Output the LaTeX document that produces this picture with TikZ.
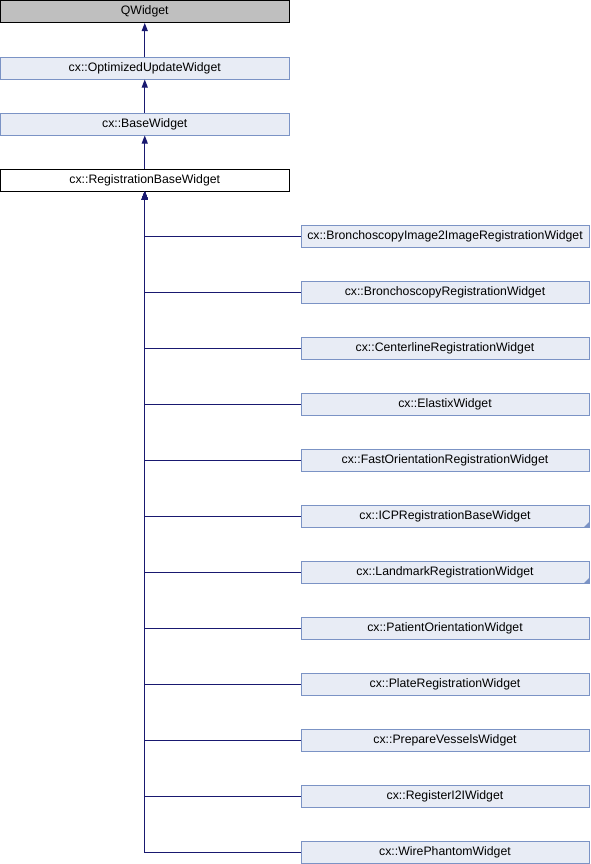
\documentclass[tikz,border=0pt]{standalone}
\usepackage{fontspec}
\setmainfont{Liberation Sans}
\usetikzlibrary{arrows.meta}
\definecolor{edgeblue}{HTML}{191970}
\definecolor{nodefill}{HTML}{E8ECF5}
\definecolor{nodeborder}{HTML}{7B93C5}
\definecolor{greyfill}{HTML}{BFBFBF}
\begin{document}
\begin{tikzpicture}[x=0.75pt,y=-0.75pt,
  basebox/.style={draw, line width=0.75pt, minimum height=16.5pt, inner sep=0pt,
    font=\fontsize{9.2}{11}\selectfont, anchor=center},
  topbox/.style={basebox, minimum width=216.75pt},
  childbox/.style={basebox, minimum width=216pt},
  bluebox/.style={fill=nodefill, draw=nodeborder},
  edge/.style={draw=edgeblue, line width=0.75pt, -{Triangle[length=6pt,width=4.5pt]}},
  corner/.style={fill=nodeborder}
]
\useasboundingbox (0,0) rectangle (590,864);
\node[topbox, fill=greyfill, draw=black] (qw) at (144.75,11.5) {QWidget};
\node[topbox, bluebox] (ouw) at (144.75,68) {cx::OptimizedUpdateWidget};
\node[topbox, bluebox] (bw) at (144.75,124) {cx::BaseWidget};
\node[topbox, fill=white, draw=black] (rbw) at (144.75,180) {cx::RegistrationBaseWidget};

\draw[edge] (ouw.north) -- (qw.south);
\draw[edge] (bw.north) -- (ouw.south);
\draw[edge] (rbw.north) -- (bw.south);

\foreach \name/\txt [count=\i from 0] in {
  c0/cx::BronchoscopyImage2ImageRegistrationWidget,
  c1/cx::BronchoscopyRegistrationWidget,
  c2/cx::CenterlineRegistrationWidget,
  c3/cx::ElastixWidget,
  c4/cx::FastOrientationRegistrationWidget,
  c5/cx::ICPRegistrationBaseWidget,
  c6/cx::LandmarkRegistrationWidget,
  c7/cx::PatientOrientationWidget,
  c8/cx::PlateRegistrationWidget,
  c9/cx::PrepareVesselsWidget,
  c10/cx::RegisterI2IWidget,
  c11/cx::WirePhantomWidget}{
  \node[childbox, bluebox] (\name) at (445,236+56*\i) {\txt};
  \draw[edge] (\name.west) -| (rbw.south);
}
\fill[corner] (c5.south east) -- ++(-6,0) -- ++(6,-6) -- cycle;
\fill[corner] (c6.south east) -- ++(-6,0) -- ++(6,-6) -- cycle;
\end{tikzpicture}
\end{document}
